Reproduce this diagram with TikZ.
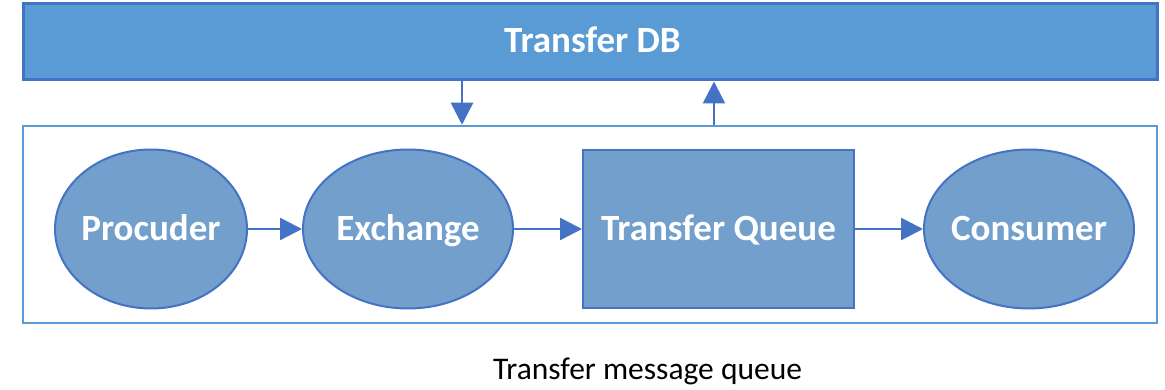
\documentclass[tikz,border=0pt]{standalone}
\usepackage{fontspec}
\setmainfont{Carlito}
\usetikzlibrary{shapes.geometric,arrows.meta}

\definecolor{dbfill}{HTML}{5B9BD5}
\definecolor{edge}{HTML}{4472C4}
\definecolor{shapefill}{HTML}{739FCD}
\definecolor{frame}{HTML}{5B9BD5}

\tikzset{
  lbl/.style={text=white, font=\fontsize{37}{42}\selectfont\bfseries,
    text height=23.5pt, text depth=0pt, inner sep=0pt},
  stage/.style={ellipse, draw=edge, line width=2pt, fill=shapefill,
    minimum width=210pt, minimum height=159pt, inner sep=0pt,
    label={[lbl]center:#1}},
  queuebox/.style={rectangle, draw=edge, line width=2pt, fill=shapefill,
    minimum width=271pt, minimum height=158pt, inner sep=0pt, lbl},
  flow/.style={draw=edge, line width=2.5pt,
    -{Triangle[length=22pt, width=22pt]}},
}

\begin{document}
\begin{tikzpicture}[x=1pt, y=-1pt]
  \useasboundingbox (0,0) rectangle (1165,390);

  % database bar across the top
  \node[rectangle, draw=edge, line width=3pt, fill=dbfill,
        minimum width=1134pt, minimum height=76pt, inner sep=0pt]
        (db) at (590,42) {};
  \node[lbl] (dbtext) at (592.5,41) {Transfer DB};

  % frame around the message queue
  \node[rectangle, draw=frame, line width=2.5pt, fill=white,
        minimum width=1134pt, minimum height=197pt, inner sep=0pt]
        (mq) at (590,224.5) {};

  % stages of the queue
  \node[stage=Procuder, minimum width=192pt] (prod) at (151,229) {};
  \node[stage=Exchange] (exch) at (408,229) {};
  \node[queuebox] (tq) at (718.5,229) {Transfer Queue};
  \node[stage=Consumer] (cons) at (1029,229) {};

  \draw[flow] (prod) -- (exch);
  \draw[flow] (exch) -- (tq);
  \draw[flow] (tq) -- (cons);

  % exchange with the database
  \coordinate (dnx) at (462,0);
  \coordinate (upx) at (714,0);
  \draw[flow] (db.south -| dnx) -- (mq.north -| dnx);
  \draw[flow] (mq.north -| upx) -- (db.south -| upx);

  % caption
  \node[font=\fontsize{31.5}{36}\selectfont, text=black, anchor=base,
        inner sep=0pt]
        (cap) at (647.5,379) {Transfer message queue};
\end{tikzpicture}
\end{document}
